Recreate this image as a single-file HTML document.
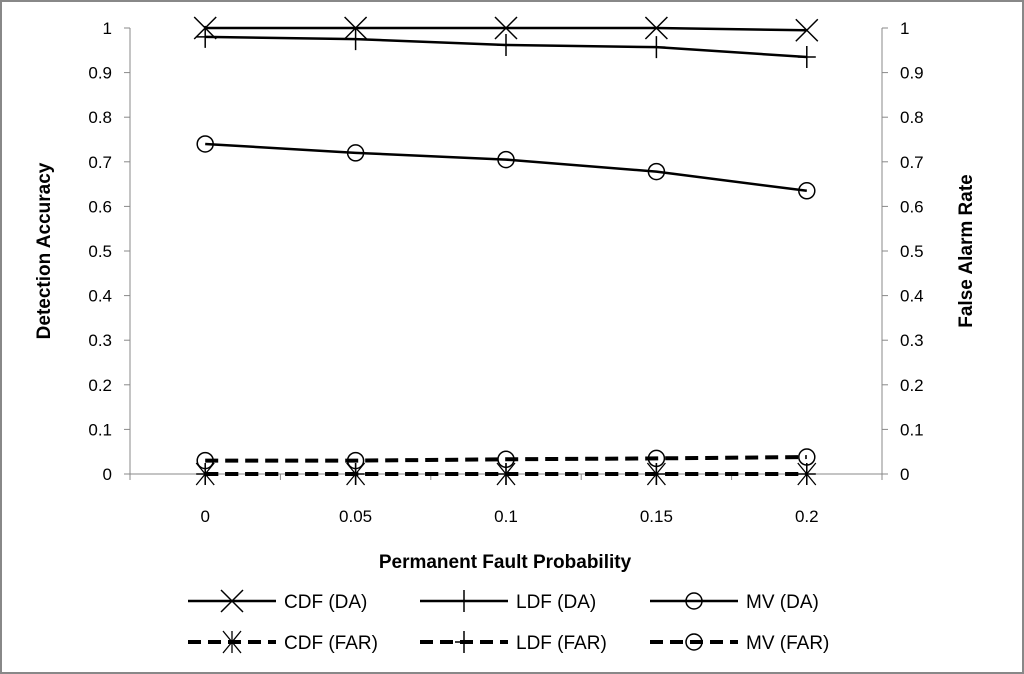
<!DOCTYPE html>
<html><head><meta charset="utf-8"><style>
body{margin:0;background:#fff;}
svg{display:block;font-family:"Liberation Sans",sans-serif;}
</style></head><body>
<svg id="c" width="1024" height="674">
<rect x="1" y="1" width="1022" height="672" fill="#fff" stroke="#888" stroke-width="2"/>
<g id="g"></g>
</svg>
<script>
const categories=["0","0.05","0.1","0.15","0.2"];
const cdfDA=[1,1,1,1,0.995];
const ldfDA=[0.98,0.975,0.962,0.957,0.935];
const mvDA=[0.74,0.72,0.705,0.678,0.635];
const cdfFAR=[0,0,0,0,0];
const ldfFAR=[0,0,0,0,0];
const mvFAR=[0.03,0.03,0.033,0.035,0.038];
const yTicks=[0,0.1,0.2,0.3,0.4,0.5,0.6,0.7,0.8,0.9,1];
const NS="http://www.w3.org/2000/svg";
const g=document.getElementById('g');
const L=130,R=882,T=28,B=474;
const x=i=>L+(R-L)/categories.length*(i+0.5);
const y=v=>B-(B-T)*v;
function mk(t,a,p){const e=document.createElementNS(NS,t);for(const k in a)e.setAttribute(k,a[k]);(p||g).appendChild(e);return e;}
let e;
e=mk('line',{x1:L,y1:T,x2:L,y2:B,stroke:'#888'});


e=mk('line',{x1:R,y1:T,x2:R,y2:B,stroke:'#888'});


e=mk('line',{x1:L,y1:B,x2:R,y2:B,stroke:'#888'});


yTicks.forEach(v=>{
 mk('line',{x1:L-6,y1:y(v),x2:L,y2:y(v),stroke:'#888'});
 mk('line',{x1:R,y1:y(v),x2:R+6,y2:y(v),stroke:'#888'});
 e=mk('text',{x:L-18,y:y(v)+6,'text-anchor':'end','font-size':17,fill:'#000'});e.textContent=String(v);
 
 
 e=mk('text',{x:R+18,y:y(v)+6,'text-anchor':'start','font-size':17,fill:'#000'});e.textContent=String(v);
 
 
});
for(let i=0;i<=categories.length;i++){const xx=L+(R-L)/categories.length*i;mk('line',{x1:xx,y1:B,x2:xx,y2:B+6,stroke:'#888'});}
categories.forEach((c,i)=>{e=mk('text',{x:x(i),y:B+48,'text-anchor':'middle','font-size':17});e.textContent=c;
 
 });
e=mk('text',{x:505,y:568,'text-anchor':'middle','font-size':19,'font-weight':'bold'});e.textContent='Permanent Fault Probability';

e=mk('text',{x:50,y:251,'text-anchor':'middle','font-size':19,'font-weight':'bold',transform:'rotate(-90 50 251)'});e.textContent='Detection Accuracy';

e=mk('text',{x:972,y:251,'text-anchor':'middle','font-size':19,'font-weight':'bold',transform:'rotate(-90 972 251)'});e.textContent='False Alarm Rate';

function marker(p,type,cx,cy){
 if(type==='x'){mk('path',{d:`M${cx-11} ${cy-11}L${cx+11} ${cy+11}M${cx-11} ${cy+11}L${cx+11} ${cy-11}`,stroke:'#000','stroke-width':1.5,fill:'none'},p);}
 else if(type==='+'){mk('path',{d:`M${cx} ${cy-11}L${cx} ${cy+11}M${cx-9} ${cy}L${cx+9} ${cy}`,stroke:'#000','stroke-width':1.5,fill:'none'},p);}
 else if(type==='*'){mk('path',{d:`M${cx-9} ${cy-11}L${cx+9} ${cy+11}M${cx-9} ${cy+11}L${cx+9} ${cy-11}M${cx} ${cy-11}L${cx} ${cy+11}`,stroke:'#000','stroke-width':1.3,fill:'none'},p);}
 else {mk('circle',{cx:cx,cy:cy,r:8,stroke:'#000','stroke-width':1.5,fill:'none'},p);}
}
function series(name,vals,type,dash){
 const p=mk('g',{});
 
 
 mk('polyline',{points:vals.map((v,i)=>x(i)+','+y(v)).join(' '),fill:'none',stroke:'#000','stroke-width':dash?4:2.5,'stroke-dasharray':dash?'13,7':'none'},p);
 vals.forEach((v,i)=>marker(p,type,x(i),y(v)));
}
series('series-cdf-far',cdfFAR,'*',true);
series('series-ldf-far',ldfFAR,'+',true);
series('series-mv-far',mvFAR,'o',true);
series('series-cdf-da',cdfDA,'x',false);
series('series-ldf-da',ldfDA,'+',false);
series('series-mv-da',mvDA,'o',false);
const leg=[['CDF (DA)','x',false,188,601],['LDF (DA)','+',false,420,601],['MV (DA)','o',false,650,601],['CDF (FAR)','*',true,188,642],['LDF (FAR)','+',true,420,642],['MV (FAR)','o',true,650,642]];
leg.forEach(l=>{
 const p=mk('g',{});
 
 
 mk('line',{x1:l[3],y1:l[4],x2:l[3]+88,y2:l[4],stroke:'#000','stroke-width':l[2]?4:2.5,'stroke-dasharray':l[2]?'13,7':'none'},p);
 marker(p,l[1],l[3]+44,l[4]);
 const t=mk('text',{x:l[3]+96,y:l[4]+7,'font-size':19},p);t.textContent=l[0];
});
</script>
</body></html>
